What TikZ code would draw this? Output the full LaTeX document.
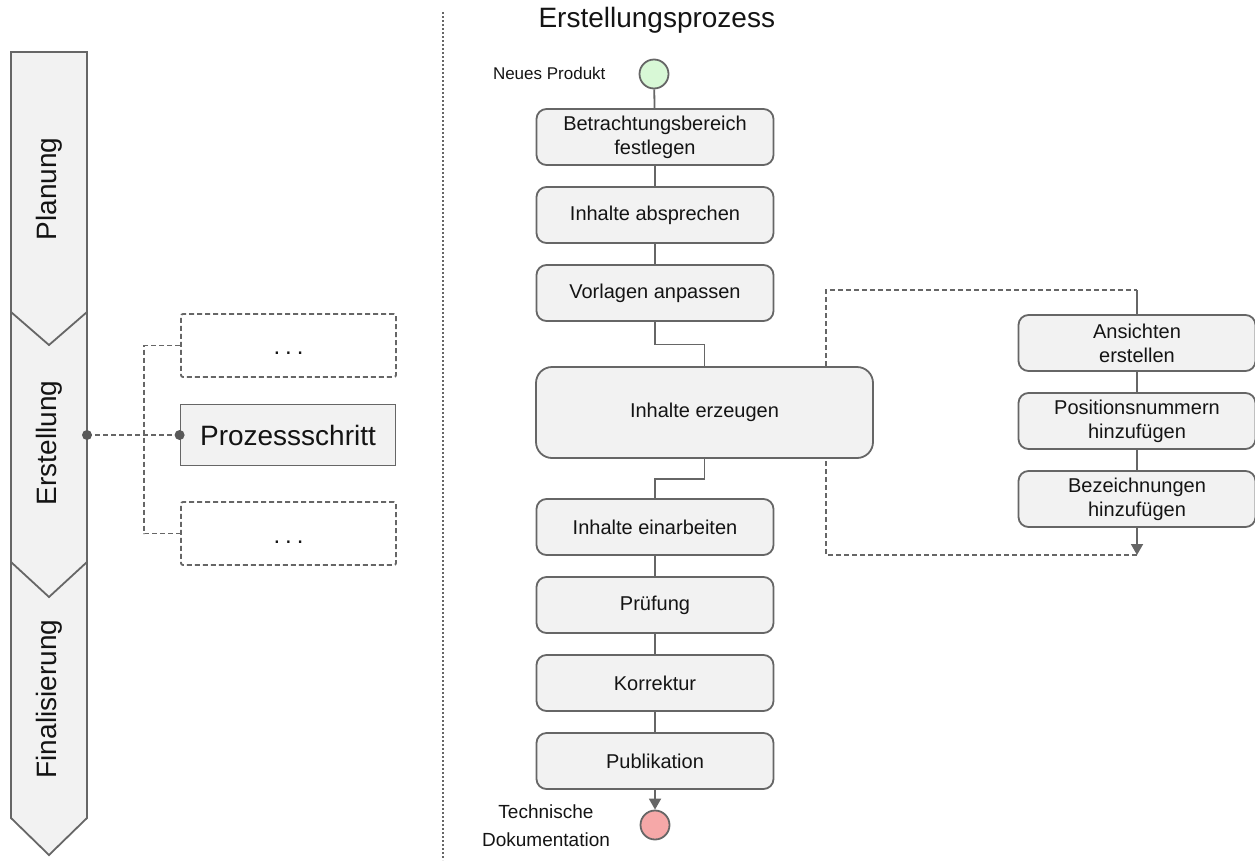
\documentclass[tikz,border=0pt]{standalone}
\usepackage{fontspec}
\setmainfont{Liberation Sans}
\usetikzlibrary{arrows.meta}

\definecolor{linegray}{HTML}{666666}
\definecolor{dotgray}{HTML}{595959}
\definecolor{boxfill}{HTML}{F2F2F2}
\definecolor{startgreen}{HTML}{D8F8D6}
\definecolor{endred}{HTML}{F6A8A8}
\definecolor{txt}{HTML}{141414}

\tikzset{
  every node/.style={text=txt},
  conn/.style={draw=linegray, line width=1.8pt},
  dashedconn/.style={conn, dash pattern=on 5pt off 3pt},
  arrowconn/.style={conn, -{Triangle[width=12pt,length=11pt]}},
  stepbox/.style={draw=linegray, line width=1.8pt, fill=boxfill, rounded corners=10pt,
    minimum width=237pt, minimum height=56pt, inner sep=0pt, align=center,
    font=\fontsize{20}{24}\selectfont},
  bigbox/.style={stepbox, rounded corners=16pt, minimum width=337pt, minimum height=91pt},
  terminal/.style={circle, draw=linegray, line width=1.8pt, minimum size=29pt, inner sep=0pt},
  phaselabel/.style={rotate=90, font=\fontsize{28}{32}\selectfont},
  placeholder/.style={draw=linegray, line width=1.8pt, dash pattern=on 5pt off 3pt,
    rounded corners=2pt, minimum width=215pt, minimum height=63pt, inner sep=0pt},
  dotstext/.style={font=\fontsize{24}{28}\selectfont, inner sep=0pt},
  processbox/.style={draw=linegray, line width=1.8pt, fill=boxfill, minimum width=215pt,
    minimum height=61pt, inner sep=0pt, font=\fontsize{28}{32}\selectfont},
  junction/.style={fill=dotgray}
}

\newcommand{\spaceddots}{.\hspace{5pt}.\hspace{5pt}.}

\begin{document}
\begin{tikzpicture}[x=1pt, y=-1pt]
\useasboundingbox (0,0) rectangle (1255,860);

% phase arrow on the left
\draw[draw=linegray, line width=1.8pt, fill=boxfill, line join=miter]
  (11,52) -- (87,52) -- (87,818) -- (49,855) -- (11,818) -- cycle;
\draw[conn] (11,312) -- (49,345) -- (87,312);
\draw[conn] (11,562) -- (49,597) -- (87,562);
\node[phaselabel] (planung) at (49,189) {Planung};
\node[phaselabel] (erstellung) at (49,443) {Erstellung};
\node[phaselabel] (final) at (49,699) {Finalisierung};

% process step detail
\node[placeholder] (phold1) at (288.5,345.5) {};
\node[dotstext] (dots1) at (288.5,353) {\spaceddots};
\node[processbox] (ps) at (288,435) {Prozessschritt};
\node[placeholder] (phold2) at (288.5,533.5) {};
\node[dotstext] (dots2) at (288.5,542) {\spaceddots};
\coordinate (phase) at (87,435);
\draw[dashedconn] (phold1.west) -- ++(-36,0) |- (phold2.west);
\draw[dashedconn] (phase) -- (ps.west);
\fill[junction] (phase) circle (5pt);
\fill[junction] (ps.west) circle (5pt);

% separator
\draw[draw=linegray, line width=1.6pt, dash pattern=on 1.6pt off 2.4pt] (443,12) -- (443,860);

% creation process
\node[anchor=west, font=\fontsize{28}{32}\selectfont] (title) at (535,20) {Erstellungsprozess};

\node[terminal, fill=startgreen] (start) at (654,74) {};
\node[anchor=east, font=\fontsize{17}{20}\selectfont] (startlabel) at (609,73) {Neues Produkt};

\node[stepbox] (b1) at (655,137) {Betrachtungsbereich\\festlegen};
\node[stepbox] (b2) at (655,215) {Inhalte absprechen};
\node[stepbox] (b3) at (655,293) {Vorlagen anpassen};
\node[bigbox]  (b4) at (704.5,412.5) {Inhalte erzeugen};
\node[stepbox] (b5) at (655,527) {Inhalte einarbeiten};
\node[stepbox] (b6) at (655,605) {Prüfung};
\node[stepbox] (b7) at (655,683) {Korrektur};
\node[stepbox] (b8) at (655,761) {Publikation};

\node[terminal, fill=endred] (end) at (655,825) {};
\node[align=center, font=\fontsize{19}{28}\selectfont] (endlabel) at (546,826) {Technische\\Dokumentation};

\draw[conn] (start) -- (b1);
\draw[conn] (b1) -- (b2);
\draw[conn] (b2) -- (b3);
\draw[conn] (b3.south) -- ++(0,22.5) -| (b4.north);
\draw[conn] (b4.south) -- ++(0,20) -| (b5.north);
\draw[conn] (b5) -- (b6);
\draw[conn] (b6) -- (b7);
\draw[conn] (b7) -- (b8);
\draw[arrowconn] (b8.south) -- (end.north);

% sub-process of content creation
\node[stepbox] (r1) at (1137,343) {Ansichten\\erstellen};
\node[stepbox] (r2) at (1137,421) {Positionsnummern\\hinzufügen};
\node[stepbox] (r3) at (1137,499) {Bezeichnungen\\hinzufügen};
\draw[conn] (r1) -- (r2);
\draw[conn] (r2) -- (r3);

\coordinate (looptop) at (826,290);
\coordinate (loopbottom) at (826,555);
\draw[dashedconn] (b4.north -| looptop) -- (looptop) -- (looptop -| r1.north);
\draw[conn] (looptop -| r1.north) -- (r1.north);
\draw[arrowconn] (r3.south) -- (r3.south |- loopbottom);
\draw[dashedconn] (r3.south |- loopbottom) -- (loopbottom) -- (b4.south -| loopbottom);
\end{tikzpicture}
\end{document}
